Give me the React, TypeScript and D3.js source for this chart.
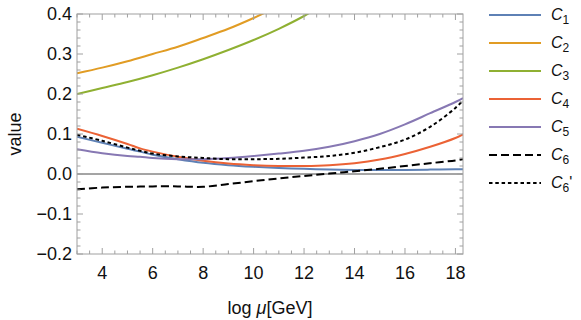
import React from "react";
import * as d3 from "d3";

const xs = [3, 4, 5, 5.5, 6, 7, 8, 9, 10, 11, 12, 13, 14, 15, 16, 17, 18, 18.3];
const c1 = [0.093, 0.078, 0.063, 0.056, 0.048, 0.037, 0.028, 0.022, 0.018, 0.015, 0.013, 0.011, 0.01, 0.01, 0.01, 0.011, 0.012, 0.012];
const c4 = [0.113, 0.095, 0.075, 0.064, 0.056, 0.043, 0.033, 0.026, 0.022, 0.02, 0.02, 0.022, 0.027, 0.036, 0.05, 0.068, 0.09, 0.099];
const c5 = [0.062, 0.052, 0.045, 0.043, 0.04, 0.037, 0.037, 0.04, 0.045, 0.051, 0.058, 0.068, 0.082, 0.1, 0.124, 0.152, 0.18, 0.19];
const c6 = [-0.038, -0.034, -0.032, -0.0315, -0.031, -0.031, -0.032, -0.025, -0.018, -0.011, -0.005, 0.001, 0.007, 0.013, 0.02, 0.027, 0.034, 0.037];
const c6p = [0.098, 0.083, 0.066, 0.058, 0.051, 0.044, 0.04, 0.037, 0.037, 0.038, 0.041, 0.045, 0.053, 0.067, 0.086, 0.118, 0.165, 0.184];
const xsC2 = [3, 4, 5, 6, 7, 8, 9, 10, 10.6];
const c2 = [0.252, 0.266, 0.282, 0.3, 0.318, 0.34, 0.363, 0.39, 0.408];
const xsC3 = [3, 4, 5, 6, 7, 8, 9, 10, 11, 12, 12.4];
const c3 = [0.2, 0.215, 0.23, 0.247, 0.266, 0.287, 0.31, 0.335, 0.363, 0.395, 0.41];

const xTicks = [4, 6, 8, 10, 12, 14, 16, 18];
const yTicks = [-0.2, -0.1, 0.0, 0.1, 0.2, 0.3, 0.4];
const legendSubs = ["1", "2", "3", "4", "5", "6", "6"];

const series = [
  { xs: xs, ys: c1, color: "#5E81B5", dash: null },
  { xs: xsC2, ys: c2, color: "#E19C24", dash: null },
  { xs: xsC3, ys: c3, color: "#8FB032", dash: null },
  { xs: xs, ys: c4, color: "#EB6235", dash: null },
  { xs: xs, ys: c5, color: "#8778B3", dash: null },
  { xs: xs, ys: c6, color: "#000000", dash: "8,4" },
  { xs: xs, ys: c6p, color: "#000000", dash: "3.5,2.8" },
];

export default function App() {
  const L = 77, R = 463, T = 14, B = 254;
  const x = d3.scaleLinear().domain([3, 18.3]).range([L, R]);
  const y = d3.scaleLinear().domain([-0.2, 0.4]).range([B, T]);
  const font = "'Liberation Sans', Arial, sans-serif";
  const frame = "#a0a0a0";

  const xMinor = d3.range(3, 18.31, 0.5).filter((v) => Math.abs(v - Math.round(v / 2) * 2) > 1e-6);
  const yMinor = d3.range(-0.2, 0.4001, 0.02).filter((v) => Math.abs(v * 10 - Math.round(v * 10)) > 1e-6);

  const line = (xv: number[], yv: number[]) =>
    d3.line<number>().x((_, i) => x(xv[i])).y((d) => y(d)).curve(d3.curveCatmullRom.alpha(0.5))(yv) || "";

  return (
    <svg width={581} height={320} style={{ position: "absolute", left: 0, top: 0 }} fontFamily={font}>
      <defs>
        <clipPath id="plotclip">
          <rect x={L} y={T} width={R - L} height={B - T} />
        </clipPath>
      </defs>
      <rect x={0} y={0} width={581} height={320} fill="#fff" />
      <line x1={L} x2={R} y1={y(0)} y2={y(0)} stroke="#4a4a4a" strokeWidth={1} />
      <g clipPath="url(#plotclip)">
        {series.map((s, i) => (
          <path key={i} d={line(s.xs, s.ys)} fill="none" stroke={s.color} strokeWidth={2}
            strokeDasharray={s.dash || undefined} />
        ))}
      </g>
      <rect x={L} y={T} width={R - L} height={B - T} fill="none" stroke={frame} strokeWidth={1} />
      {xTicks.map((t) => (
        <g key={"xt" + t}>
          <line x1={x(t)} x2={x(t)} y1={B} y2={B - 6} stroke={frame} />
          <line x1={x(t)} x2={x(t)} y1={T} y2={T + 6} stroke={frame} />
          <text x={x(t)} y={279} textAnchor="middle" fontSize={18} fill="#111">{t}</text>
        </g>
      ))}
      {xMinor.map((t) => (
        <g key={"xm" + t}>
          <line x1={x(t)} x2={x(t)} y1={B} y2={B - 3.5} stroke={frame} />
          <line x1={x(t)} x2={x(t)} y1={T} y2={T + 3.5} stroke={frame} />
        </g>
      ))}
      {yTicks.map((t) => (
        <g key={"yt" + t}>
          <line x1={L} x2={L + 6} y1={y(t)} y2={y(t)} stroke={frame} />
          <line x1={R} x2={R - 6} y1={y(t)} y2={y(t)} stroke={frame} />
          <text x={72} y={y(t)} dy="0.36em" textAnchor="end" fontSize={18} fill="#111">
            {t < 0 ? "\u2212" + Math.abs(t).toFixed(1) : t.toFixed(1)}
          </text>
        </g>
      ))}
      {yMinor.map((t) => (
        <g key={"ym" + t}>
          <line x1={L} x2={L + 3.5} y1={y(t)} y2={y(t)} stroke={frame} />
          <line x1={R} x2={R - 3.5} y1={y(t)} y2={y(t)} stroke={frame} />
        </g>
      ))}
      <text x={270} y={314} textAnchor="middle" fontSize={18} fill="#111">
        log <tspan fontStyle="italic">μ</tspan>[GeV]
      </text>
      <text transform={`translate(21,${(T + B) / 2}) rotate(-90)`} textAnchor="middle" fontSize={18} fill="#111">value</text>
      {series.map((s, i) => {
        const ly = 15 + i * 28;
        return (
          <g key={"lg" + i}>
            <line x1={489} x2={541} y1={ly} y2={ly} stroke={s.color} strokeWidth={2}
              strokeDasharray={s.dash || undefined} />
            <text x={551} y={ly + 5} fontSize={16} fill="#111">
              <tspan fontStyle="italic">C</tspan>
              <tspan dy={4} fontSize={12}>{legendSubs[i]}</tspan>
              {i === 6 ? <tspan dy={-4} fontSize={16}>'</tspan> : null}
            </text>
          </g>
        );
      })}
    </svg>
  );
}
